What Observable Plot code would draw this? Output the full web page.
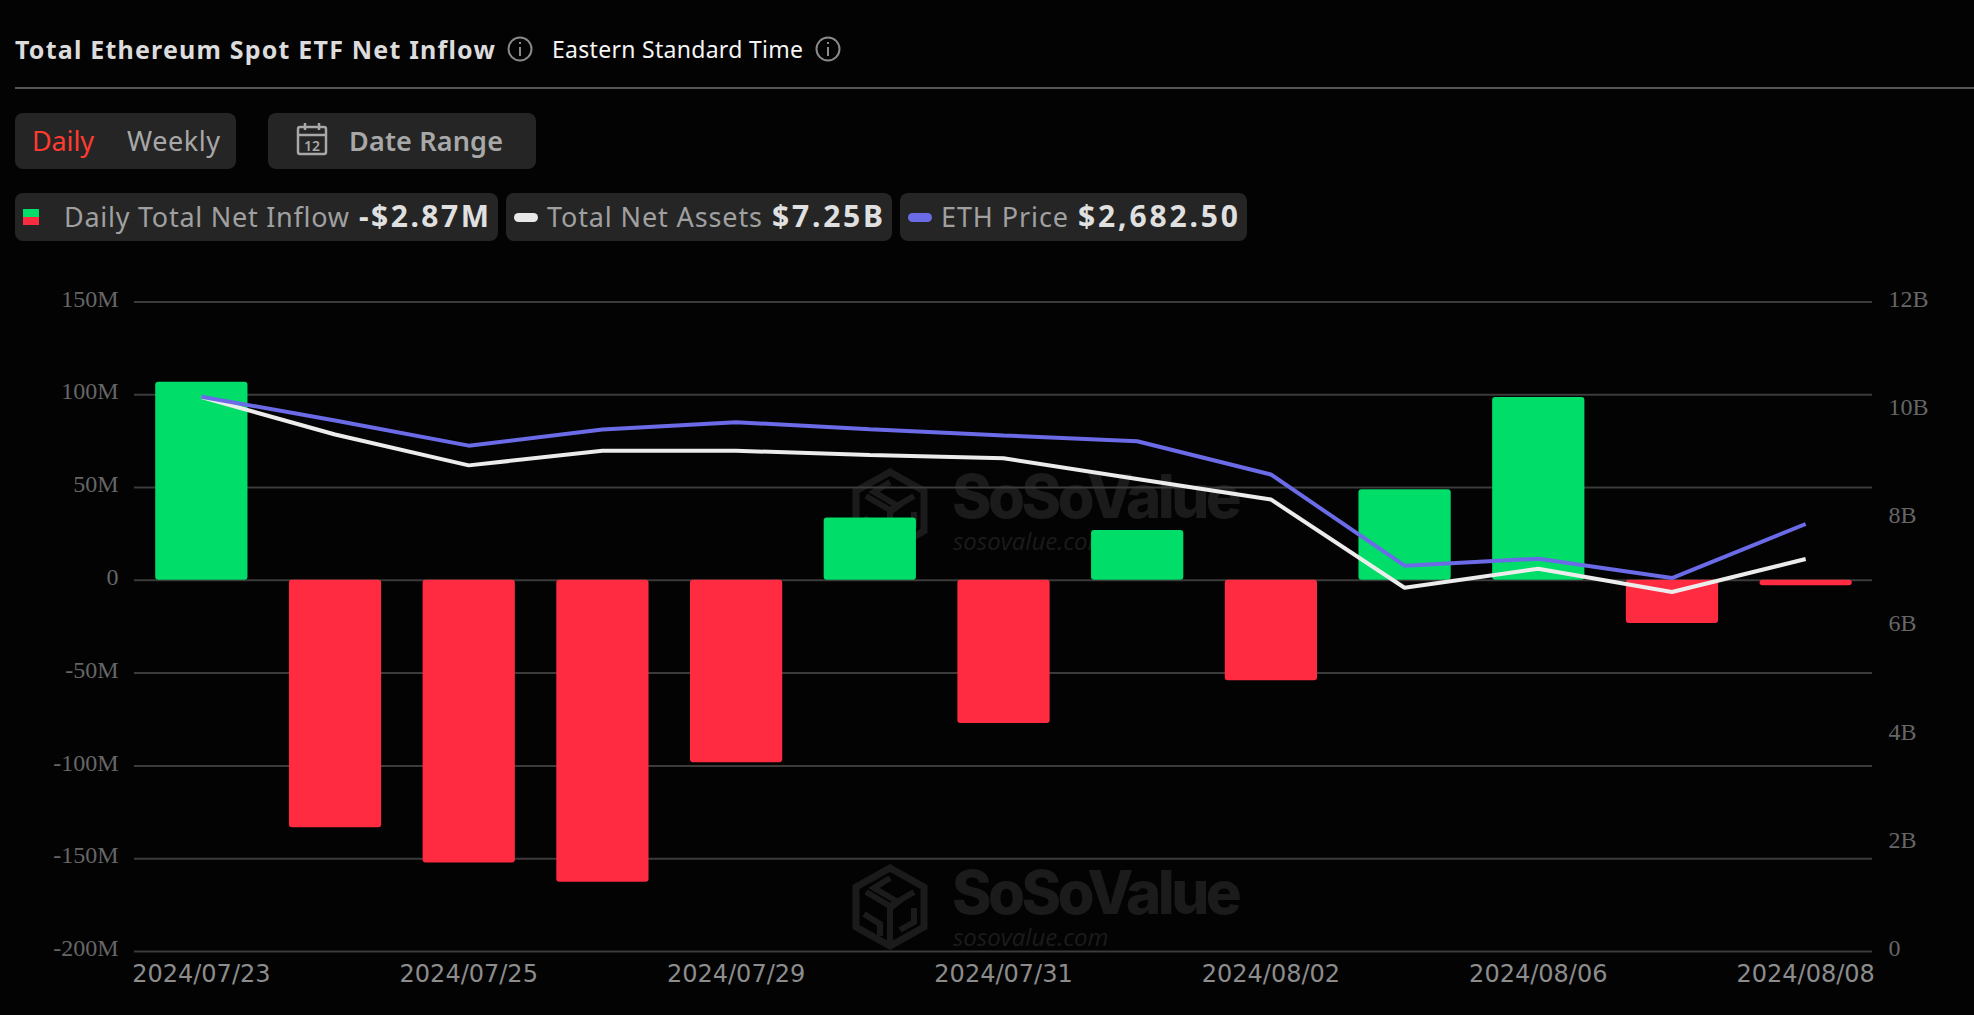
<!DOCTYPE html>
<html><head><meta charset="utf-8">
<script src="https://cdn.jsdelivr.net/npm/d3@7"></script>
<script src="https://cdn.jsdelivr.net/npm/@observablehq/plot@0.6"></script>
<style>
html,body{margin:0;padding:0;background:#030304;width:1974px;height:1015px;overflow:hidden;font-family:'Noto Sans',sans-serif}
.t{position:absolute;white-space:nowrap;line-height:1;transform:translateY(-50%)}
.box{position:absolute;background:#252525;border-radius:8px}
#chart{position:absolute;left:0;top:270px}
#chart svg{background:transparent;display:block;overflow:visible}
.wm{position:absolute;white-space:nowrap;color:#1b1b1b}
</style></head><body>
<div id="wm"></div>
<div id="header"></div>
<div id="chart"></div>
<script>
const dates=["2024/07/23","2024/07/24","2024/07/25","2024/07/26","2024/07/29","2024/07/30","2024/07/31","2024/08/01","2024/08/02","2024/08/05","2024/08/06","2024/08/07","2024/08/08"];
const netInflowM=[106.7,-133.3,-152.3,-162.7,-98.3,33.6,-77.1,26.8,-54.1,48.8,98.5,-23.3,-2.87];
const netAssetsB=[10.24,9.55,8.98,9.25,9.25,9.17,9.11,8.73,8.35,6.72,7.07,6.64,7.25];
const ethPrice=[3481,3332,3174,3275,3321,3277,3238,3202,2993,2421,2465,2343,2682.5];
const xTickLabels=["2024/07/23","2024/07/25","2024/07/29","2024/07/31","2024/08/02","2024/08/06","2024/08/08"];
const leftTicks=[-200,-150,-100,-50,0,50,100,150];
const rightTicks=[0,2,4,6,8,10,12];
const yMin=-200,yMax=150,assetsMax=12,priceMax=4076;
const fromAssets=b=>yMin+(b/assetsMax)*(yMax-yMin);
const fromPrice=p=>yMin+(p/priceMax)*(yMax-yMin);
const rows=dates.map((d,i)=>({d,net:netInflowM[i],assets:fromAssets(netAssetsB[i]),price:fromPrice(ethPrice[i])}));
const serif="'Liberation Serif',serif";
const plot=Plot.plot({
  width:1974,height:745,marginTop:31.4,marginBottom:64,marginLeft:134,marginRight:102,
  style:{background:"transparent",overflow:"visible"},
  x:{type:"band",domain:dates,paddingInner:0.31,paddingOuter:0.155,round:false,label:null},
  y:{domain:[yMin,yMax],label:null},
  marks:[
    Plot.ruleY(leftTicks,{stroke:"#3b3b3b",strokeWidth:2}),
    Plot.barY(rows,{x:"d",y:"net",fill:d=>d.net>=0?"#00dd68":"#ff2b40",rx:3,dx:0.5}),
    Plot.line(rows,{x:"d",y:"assets",stroke:"#ececec",strokeWidth:4,strokeLinejoin:"miter",strokeLinecap:"butt",curve:"linear"}),
    Plot.line(rows,{x:"d",y:"price",stroke:"#6b6be8",strokeWidth:4,strokeLinejoin:"miter",strokeLinecap:"butt",curve:"linear"}),
    Plot.axisY({ticks:leftTicks,tickSize:0,tickPadding:16,dy:-3,label:null,tickFormat:d=>d===0?"0":d+"M",fill:"#666",fontSize:24,fontFamily:serif}),
    Plot.text(rightTicks,{y:d=>fromAssets(d),text:d=>d===0?"0":d+"B",frameAnchor:"right",textAnchor:"start",dx:16,dy:-3,fill:"#666",fontSize:24,fontFamily:serif}),
    Plot.axisX({ticks:xTickLabels,tickSize:0,tickPadding:13,label:null,fill:"#8c8c8c",fontSize:24,fontFamily:"'DejaVu Sans',sans-serif"})
  ]
});
document.getElementById("chart").append(plot);

const head=document.getElementById("header");
function box(l,t,w,h){const e=document.createElement("div");e.className="box";e.style.cssText=`left:${l}px;top:${t}px;width:${w}px;height:${h}px`;head.append(e);}
function txt(s,l,cy,w,size,weight,color){const e=document.createElement("span");e.className="t";e.textContent=s;
  e.style.cssText=`left:${l}px;top:${cy}px;font-size:${size}px;font-weight:${weight};color:${color}`;head.append(e);
  const cur=e.getBoundingClientRect().width;e.style.letterSpacing=((w-cur)/(s.length-1))+"px";}
const rule=document.createElement("div");rule.style.cssText="position:absolute;left:15px;right:0;top:87px;height:2px;background:#555";head.append(rule);
box(15,113,221,56);box(268,113,268,56);box(15,193,483,48);box(506,193,386,48);box(900,193,347,48);
txt("Total Ethereum Spot ETF Net Inflow",15,49,480,25,700,"#dcdcdc");
txt("Eastern Standard Time",552,49,251,23,400,"#f5f5f5");
txt("Daily",32,140,62,27,400,"#ff3b30");
txt("Weekly",127,140,93,27,400,"#a8a8a8");
txt("Date Range",349,140,154,27,600,"#a8a8a8");
txt("Daily Total Net Inflow",64,216,285,27,400,"#a0a0a0");
txt("-$2.87M",359,216,130,30,700,"#e0e0e0");
txt("Total Net Assets",547,216,215,27,400,"#a0a0a0");
txt("$7.25B",772,216,111,30,700,"#e0e0e0");
txt("ETH Price",941,216,127,27,400,"#a0a0a0");
txt("$2,682.50",1078,216,160,30,700,"#e0e0e0");
const ov=document.createElementNS("http://www.w3.org/2000/svg","svg");
ov.setAttribute("width",1974);ov.setAttribute("height",260);ov.style.cssText="position:absolute;left:0;top:0";
ov.innerHTML=`
<g fill="none" stroke="#8a8a8a" stroke-width="2"><circle cx="520" cy="49" r="11.5"/><circle cx="828" cy="49" r="11.5"/></g>
<g fill="#8a8a8a"><rect x="519" y="47" width="2" height="9"/><rect x="519" y="42" width="2" height="2"/><rect x="827" y="47" width="2" height="9"/><rect x="827" y="42" width="2" height="2"/></g>
<g fill="none" stroke="#a8a8a8" stroke-width="2.5"><rect x="298" y="127" width="28" height="27" rx="2"/><path d="M298 135H326M305 123V130M319 123V130"/></g>
<text x="312" y="151" text-anchor="middle" font-size="14" font-family="Noto Sans" font-weight="600" fill="#a8a8a8">12</text>
<rect x="23" y="209" width="16" height="8" fill="#00dd68"/><rect x="23" y="217" width="16" height="8" fill="#ff2b40"/>
<rect x="514" y="213" width="24" height="9" rx="4.5" fill="#e8e8e8"/><rect x="908" y="213" width="24" height="9" rx="4.5" fill="#6b6be8"/>`;
head.append(ov);

const wm=document.getElementById("wm");
[467.5,863.5].forEach(y=>{
  const g=document.createElement("div");
  g.innerHTML=`<svg style="position:absolute;left:852px;top:${y}px" width="76" height="86" viewBox="0 0 76 86"><path fill="none" stroke="#1b1b1b" stroke-width="7" d="M38 4 72 23V63L38 82 4 63V23Z"/><path fill="none" stroke="#1b1b1b" stroke-width="6" d="M14 28 38 42 62 28M38 14 22 24 46 38 38 44M12 50 28 60V72M38 44V78M62 44V58L48 66"/></svg>
  <span class="wm" style="left:952px;top:${y-1.5}px;font:800 60px Inter,sans-serif;line-height:60px;letter-spacing:-3.6px">SoSoValue</span>
  <span class="wm" style="left:953px;top:${y+63}px;font:italic 400 24px 'Open Sans',sans-serif;line-height:20px">sosovalue.com</span>`;
  wm.append(g);
});
</script></body></html>
